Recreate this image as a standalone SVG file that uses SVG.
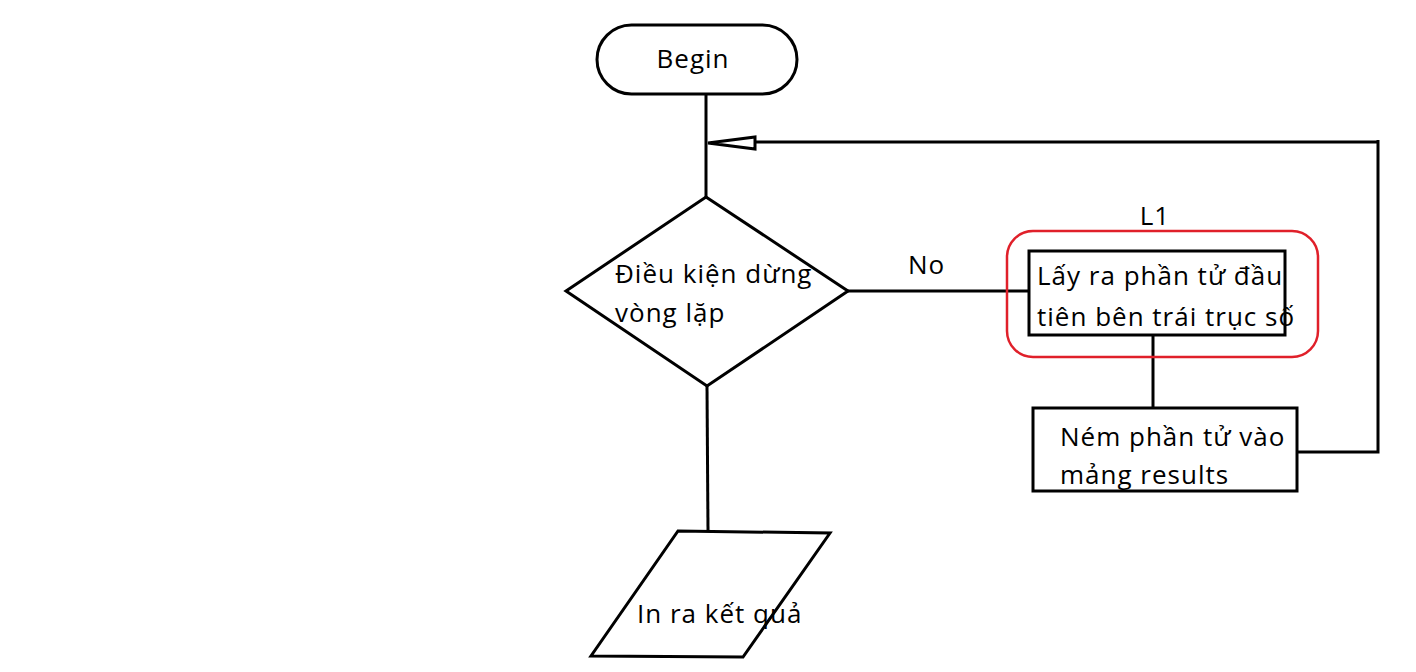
<svg xmlns="http://www.w3.org/2000/svg" width="1416" height="672" viewBox="0 0 1416 672">
<style>
.s{fill:#fff;stroke:#000;stroke-width:3}
.l{fill:none;stroke:#000;stroke-width:3}
.t{font-family:"Open Sans","Noto Sans",sans-serif;font-size:26px;letter-spacing:1px;fill:#000}
</style>
<rect width="1416" height="672" fill="#fff"/>
<g id="connectors">
<line class="l" x1="706" y1="94" x2="706" y2="197"/>
<polyline class="l" points="1298,452 1378,452 1378,140"/>
<line class="l" x1="1378" y1="142" x2="755" y2="142"/>
<path d="M708,143 L755,137 L755,149 Z" fill="#fff" stroke="#000" stroke-width="3"/>
<line class="l" x1="848" y1="291" x2="1029" y2="291"/>
<line class="l" x1="1153" y1="335" x2="1153" y2="408"/>
<line class="l" x1="707" y1="386" x2="708" y2="531"/>
<text class="t" x="908" y="274">No</text>
</g>
<g id="begin">
<rect class="s" x="597" y="25" width="200" height="69" rx="34.5"/>
<text class="t" x="693" y="68" text-anchor="middle">Begin</text>
</g>
<g id="condition">
<polygon class="s" points="706,197 848,291 707,386 566,291"/>
<text class="t" x="615" y="283">Điều kiện dừng</text>
<text class="t" x="615" y="322">vòng lặp</text>
</g>
<g id="L1">
<rect x="1007" y="231" width="311" height="126" rx="26" fill="none" stroke="#e0202a" stroke-width="2.5"/>
<text class="t" x="1155" y="225" text-anchor="middle">L1</text>
</g>
<g id="take">
<rect class="s" x="1029" y="251" width="256" height="84"/>
<text class="t" x="1037" y="285">Lấy ra phần tử đầu</text>
<text class="t" x="1037" y="326">tiên bên trái trục số</text>
</g>
<g id="push">
<rect class="s" x="1033" y="408" width="264" height="83"/>
<text class="t" x="1060" y="446">Ném phần tử vào</text>
<text class="t" x="1060" y="484">mảng results</text>
</g>
<g id="output">
<polygon class="s" points="678,531 830,533 743,657 591,656"/>
<text class="t" x="637" y="623">In ra kết quả</text>
</g>
</svg>
